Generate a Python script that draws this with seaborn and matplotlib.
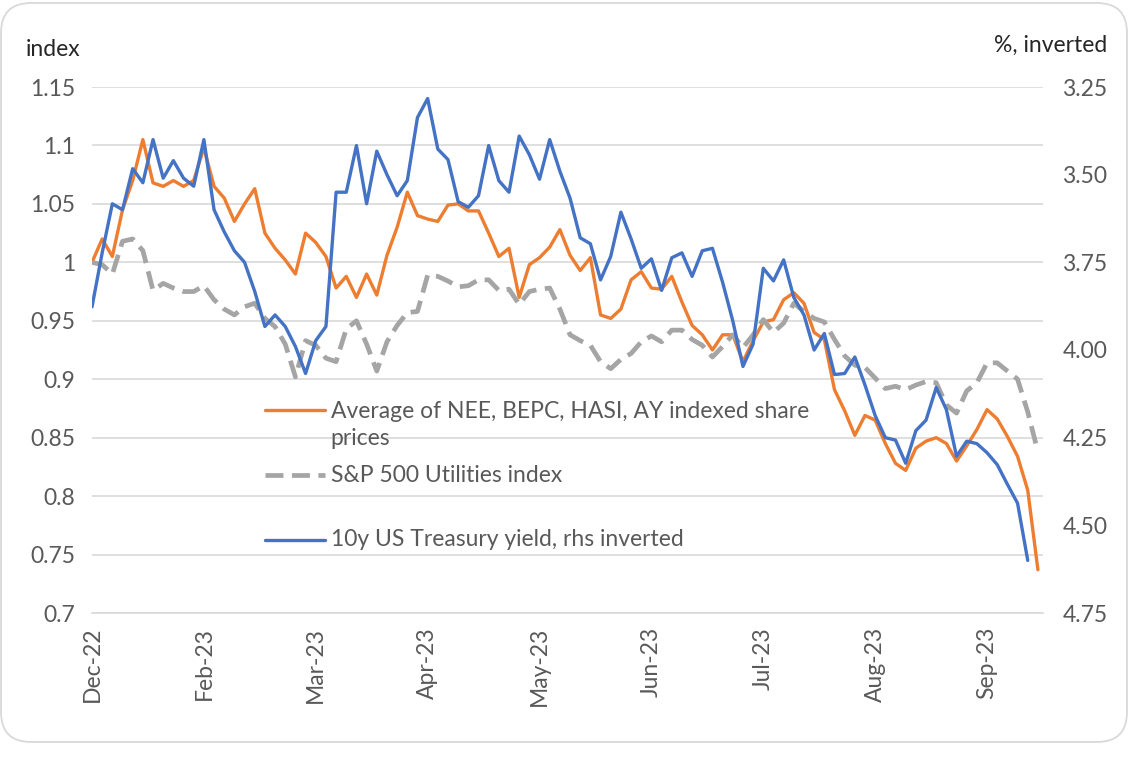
import matplotlib
matplotlib.use("Agg")
import matplotlib.pyplot as plt
from matplotlib.patches import FancyBboxPatch
import numpy as np
import pandas as pd
import seaborn as sns

# trading days since 30-Dec-2022, read every 2nd day off the chart
days = np.arange(0, 188, 2)

# average of NEE, BEPC, HASI, AY indexed share prices (lhs)
avg = [1.0, 1.02, 1.005, 1.045, 1.07, 1.105, 1.068, 1.065, 1.07, 1.065,
       1.07, 1.098, 1.065, 1.055, 1.035, 1.05, 1.063, 1.025, 1.012, 1.002,
       0.99, 1.025, 1.017, 1.005, 0.978, 0.988, 0.97, 0.99, 0.972, 1.006,
       1.03, 1.06, 1.04, 1.037, 1.035, 1.049, 1.05, 1.044, 1.044, 1.025,
       1.005, 1.012, 0.97, 0.998, 1.004, 1.013, 1.028, 1.006, 0.993, 1.004,
       0.955, 0.952, 0.96, 0.985, 0.992, 0.978, 0.977, 0.988, 0.966, 0.946,
       0.938, 0.925, 0.938, 0.938, 0.915, 0.933, 0.949, 0.951, 0.968, 0.974,
       0.965, 0.94, 0.934, 0.891, 0.873, 0.852, 0.869, 0.865, 0.845, 0.828,
       0.822, 0.841, 0.847, 0.85, 0.845, 0.83, 0.843, 0.857, 0.874, 0.866,
       0.851, 0.834, 0.805, 0.737]

# S&P 500 Utilities index (lhs)
spx = [1.0, 0.998, 0.99, 1.018, 1.02, 1.01, 0.976, 0.982, 0.978, 0.975,
       0.975, 0.98, 0.968, 0.96, 0.955, 0.962, 0.965, 0.952, 0.945, 0.93,
       0.902, 0.933, 0.929, 0.918, 0.915, 0.943, 0.95, 0.93, 0.907, 0.932,
       0.946, 0.957, 0.958, 0.989, 0.988, 0.984, 0.979, 0.98, 0.985, 0.985,
       0.976, 0.977, 0.964, 0.975, 0.977, 0.978, 0.96, 0.938, 0.933, 0.929,
       0.915, 0.909, 0.917, 0.922, 0.932, 0.937, 0.932, 0.942, 0.942, 0.934,
       0.929, 0.919, 0.928, 0.938, 0.927, 0.938, 0.951, 0.94, 0.948, 0.965,
       0.958, 0.952, 0.949, 0.934, 0.92, 0.912, 0.91, 0.901, 0.892, 0.894,
       0.891, 0.895, 0.898, 0.897, 0.878, 0.871, 0.89, 0.897, 0.914, 0.914,
       0.907, 0.9, 0.872, 0.838]

# 10y US Treasury yield, % (rhs, inverted)
ust = [3.877, 3.723, 3.583, 3.60, 3.483, 3.523, 3.40, 3.51, 3.46, 3.51,
       3.533, 3.40, 3.60, 3.663, 3.717, 3.75, 3.833, 3.933, 3.90, 3.933,
       3.99, 4.067, 3.973, 3.933, 3.55, 3.55, 3.417, 3.583, 3.433, 3.50,
       3.56, 3.517, 3.337, 3.283, 3.427, 3.457, 3.577, 3.593, 3.56, 3.417,
       3.517, 3.55, 3.39, 3.443, 3.513, 3.40, 3.49, 3.567, 3.68, 3.697,
       3.80, 3.733, 3.607, 3.683, 3.767, 3.74, 3.83, 3.737, 3.723, 3.79,
       3.717, 3.71, 3.807, 3.917, 4.047, 3.983, 3.767, 3.803, 3.743, 3.85,
       3.90, 4.00, 3.953, 4.07, 4.067, 4.02, 4.10, 4.187, 4.25, 4.257,
       4.323, 4.23, 4.20, 4.107, 4.17, 4.303, 4.26, 4.267, 4.293, 4.327,
       4.383, 4.437, 4.60, np.nan]

tick_days = [0, 22, 44, 66, 88, 110, 132, 154, 176]
tick_labels = ["Dec-22", "Feb-23", "Mar-23", "Apr-23", "May-23",
               "Jun-23", "Jul-23", "Aug-23", "Sep-23"]
left_ticks = [0.7, 0.75, 0.8, 0.85, 0.9, 0.95, 1.0, 1.05, 1.1, 1.15]
right_ticks = [3.25, 3.5, 3.75, 4.0, 4.25, 4.5, 4.75]

names = ["Average of NEE, BEPC, HASI, AY indexed share\nprices",
         "S&P 500 Utilities index",
         "10y US Treasury yield, rhs inverted"]

df = pd.DataFrame({"day": days, "avg": avg, "spx": spx, "ust": ust})

sns.set_style("white")
plt.rcParams["font.family"] = ["Lato", "DejaVu Sans"]

ORANGE = "#ED7D31"
GREY = "#A5A5A5"
BLUE = "#4472C4"
TXT = "#595959"
GRID = "#d9d9d9"
fs = 16.5

fig = plt.figure(figsize=(11.38, 7.58), dpi=100)
ax = fig.add_axes([92 / 1138, 1 - 613 / 758, (1043 - 92) / 1138, (613 - 87) / 758])

sns.lineplot(data=df, x="day", y="avg", ax=ax, color=ORANGE, lw=2.4)
sns.lineplot(data=df, x="day", y="spx", ax=ax, color=GREY, lw=3.4)
ax.lines[-1].set_dashes((3.8, 1.8))
ax.lines[-1].set_dash_capstyle("butt")

ax2 = ax.twinx()
sns.lineplot(data=df, x="day", y="ust", ax=ax2, color=BLUE, lw=2.4)

ax.set_xlim(0, 187)
ax.set_ylim(0.7, 1.15)
ax2.set_ylim(4.75, 3.25)

ax.set_yticks(left_ticks)
ax.set_yticklabels([f"{v:g}" for v in left_ticks])
ax2.set_yticks(right_ticks)
ax2.set_yticklabels([f"{v:.2f}" for v in right_ticks])
ax.set_xticks(tick_days)
ax.set_xticklabels(tick_labels, rotation=90)

ax.yaxis.grid(True, color=GRID, lw=1.2)
ax.set_axisbelow(True)
for a in (ax, ax2):
    for s in a.spines.values():
        s.set_visible(False)
    a.set_xlabel("")
    a.set_ylabel("")
ax.spines["bottom"].set_visible(True)
ax.spines["bottom"].set_color(GRID)
ax.spines["bottom"].set_linewidth(1.2)

ax.tick_params(axis="x", length=6, width=1.2, color=GRID, labelcolor=TXT, labelsize=fs, pad=4)
ax.tick_params(axis="y", length=0, labelcolor=TXT, labelsize=fs, pad=12)
ax2.tick_params(axis="y", length=0, labelcolor=TXT, labelsize=fs, pad=14)

fig.text(26 / 1138, 1 - 50 / 758, "index", color="#262626", fontsize=fs, va="center", ha="left")
fig.text(1107 / 1138, 1 - 45 / 758, "%, inverted", color="#262626", fontsize=fs, va="center", ha="right")

# legend drawn by hand so the two-line label keeps its handle on the first line
leg_y = [0.386, 0.262, 0.139]
leg_style = [dict(color=ORANGE, lw=2.4), dict(color=GREY, lw=3.4, dashes=(3.8, 1.8), dash_capstyle="butt"),
             dict(color=BLUE, lw=2.4)]
for y, name, st in zip(leg_y, names, leg_style):
    ax.plot([0.182, 0.245], [y, y], transform=ax.transAxes, **st)
    ax.text(0.251, y, name, transform=ax.transAxes, color=TXT, fontsize=fs,
            va="top" if "\n" in name else "center", linespacing=1.35)
ax.texts[0].set_y(leg_y[0] + 0.017)

fig.patches.append(FancyBboxPatch((0.01, 0.16), 11.26, 7.39,
                                  boxstyle="round,pad=0,rounding_size=0.3",
                                  transform=fig.dpi_scale_trans, fc="none", ec=GRID, lw=1.3))

fig.savefig("out.png", dpi=100)
